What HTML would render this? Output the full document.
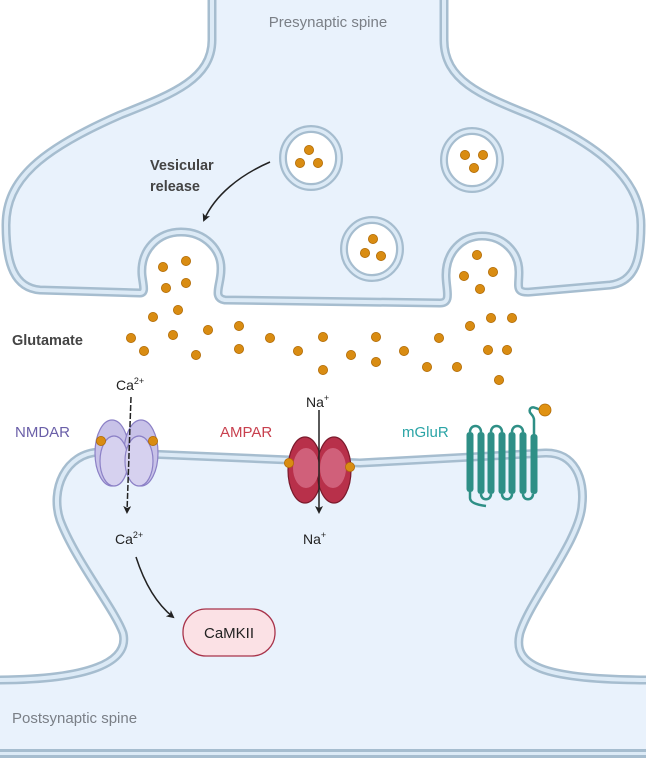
<!DOCTYPE html>
<html><head><meta charset="utf-8"><style>
html,body{margin:0;padding:0;background:#fff}
svg{display:block}
text{font-family:"Liberation Sans",sans-serif}
</style></head><body>
<svg width="646" height="763" viewBox="0 0 646 763" xmlns="http://www.w3.org/2000/svg">
<defs>
<marker id="ah" markerWidth="8" markerHeight="8" refX="6" refY="4" orient="auto" markerUnits="userSpaceOnUse"><path d="M0,0 L8,4 L0,8 L2,4 Z" fill="#222"/></marker>
<g id="dot"><circle r="4.6" fill="#d98c12" stroke="#b06a05" stroke-width="0.8"/></g>
</defs>
<!-- presynaptic -->
<g>
<path id="pre" d="M212,-5 L212,40 C212,80 170,95 120,115 C40,150 6,180 6,225 C6,265 15,288 40,290 L140,293 C146,293 143,285 142,275 C140,250 158,232 181,232 C205,232 222,250 221,270 C221,285 212,298 225,300 L440,303 C452,303 446,290 446,275 C446,252 462,236 482,236 C503,236 519,252 519,272 C519,287 515,293 530,292 L610,285 C635,282 641,260 641,225 C641,180 600,145 530,115 C480,95 444,80 444,40 L444,-5 Z" fill="#e9f2fc" stroke="#a6bdcf" stroke-width="9"/>
<path d="M212,-5 L212,40 C212,80 170,95 120,115 C40,150 6,180 6,225 C6,265 15,288 40,290 L140,293 C146,293 143,285 142,275 C140,250 158,232 181,232 C205,232 222,250 221,270 C221,285 212,298 225,300 L440,303 C452,303 446,290 446,275 C446,252 462,236 482,236 C503,236 519,252 519,272 C519,287 515,293 530,292 L610,285 C635,282 641,260 641,225 C641,180 600,145 530,115 C480,95 444,80 444,40 L444,-5" fill="none" stroke="#dceaf6" stroke-width="4"/>
</g>
<!-- vesicles -->
<g fill="#fff" stroke="#a6bdcf" stroke-width="8">
<ellipse cx="311" cy="158" rx="28" ry="29"/><ellipse cx="472" cy="160" rx="28" ry="29"/><ellipse cx="372" cy="249" rx="28" ry="29"/>
</g>
<g fill="none" stroke="#dceaf6" stroke-width="3.5">
<ellipse cx="311" cy="158" rx="28" ry="29"/><ellipse cx="472" cy="160" rx="28" ry="29"/><ellipse cx="372" cy="249" rx="28" ry="29"/>
</g>
<!-- postsynaptic -->
<path d="M-5,680 C90,680 130,662 123,633 C115,610 75,560 60,520 C50,490 65,453 100,452 L290,460 L360,463 L545,453 C575,452 585,480 582,505 C580,540 530,600 520,633 C512,665 540,680 651,680 L651,754 L-5,754 Z" fill="#e9f2fc" stroke="none"/>
<path d="M-5,680 C90,680 130,662 123,633 C115,610 75,560 60,520 C50,490 65,453 100,452 L290,460 L360,463 L545,453 C575,452 585,480 582,505 C580,540 530,600 520,633 C512,665 540,680 651,680" fill="none" stroke="#a6bdcf" stroke-width="9"/>
<path d="M-5,680 C90,680 130,662 123,633 C115,610 75,560 60,520 C50,490 65,453 100,452 L290,460 L360,463 L545,453 C575,452 585,480 582,505 C580,540 530,600 520,633 C512,665 540,680 651,680" fill="none" stroke="#dceaf6" stroke-width="4"/>
<rect x="0" y="749" width="646" height="9" fill="#a6bdcf"/>
<rect x="0" y="752" width="646" height="3" fill="#dceaf6"/>
<rect x="0" y="758" width="646" height="5" fill="#fff"/>
<!-- glutamate dots -->
<g>
<use href="#dot" x="309" y="150"/><use href="#dot" x="300" y="163"/><use href="#dot" x="318" y="163"/>
<use href="#dot" x="465" y="155"/><use href="#dot" x="483" y="155"/><use href="#dot" x="474" y="168"/>
<use href="#dot" x="373" y="239"/><use href="#dot" x="365" y="253"/><use href="#dot" x="381" y="256"/>
<use href="#dot" x="163" y="267"/><use href="#dot" x="186" y="261"/><use href="#dot" x="166" y="288"/><use href="#dot" x="186" y="283"/>
<use href="#dot" x="153" y="317"/><use href="#dot" x="178" y="310"/><use href="#dot" x="131" y="338"/><use href="#dot" x="144" y="351"/>
<use href="#dot" x="173" y="335"/><use href="#dot" x="208" y="330"/><use href="#dot" x="239" y="326"/><use href="#dot" x="196" y="355"/>
<use href="#dot" x="239" y="349"/><use href="#dot" x="270" y="338"/><use href="#dot" x="298" y="351"/><use href="#dot" x="323" y="337"/>
<use href="#dot" x="351" y="355"/><use href="#dot" x="376" y="337"/><use href="#dot" x="376" y="362"/><use href="#dot" x="404" y="351"/>
<use href="#dot" x="439" y="338"/><use href="#dot" x="427" y="367"/><use href="#dot" x="457" y="367"/><use href="#dot" x="323" y="370"/>
<use href="#dot" x="477" y="255"/><use href="#dot" x="464" y="276"/><use href="#dot" x="493" y="272"/><use href="#dot" x="480" y="289"/>
<use href="#dot" x="470" y="326"/><use href="#dot" x="491" y="318"/><use href="#dot" x="512" y="318"/><use href="#dot" x="488" y="350"/>
<use href="#dot" x="507" y="350"/><use href="#dot" x="499" y="380"/>
</g>
<!-- labels -->
<text x="328" y="27" font-size="15" fill="#7a7f86" text-anchor="middle">Presynaptic spine</text>
<text x="150" y="170" font-size="14.5" font-weight="bold" fill="#444">Vesicular</text>
<text x="150" y="191" font-size="14.5" font-weight="bold" fill="#444">release</text>
<path d="M270,162 C240,175 215,195 204,220" fill="none" stroke="#222" stroke-width="1.5" marker-end="url(#ah)"/>
<text x="12" y="345" font-size="14.5" font-weight="bold" fill="#444">Glutamate</text>
<text x="15" y="437" font-size="15" fill="#6a5fa8">NMDAR</text>
<text x="220" y="437" font-size="15" fill="#c8404e">AMPAR</text>
<text x="402" y="437" font-size="15" fill="#2aa4a6">mGluR</text>
<text x="116" y="390" font-size="14" fill="#222">Ca<tspan font-size="9" dy="-6">2+</tspan></text>
<text x="306" y="407" font-size="14" fill="#222">Na<tspan font-size="9" dy="-6">+</tspan></text>
<text x="115" y="544" font-size="14" fill="#222">Ca<tspan font-size="9" dy="-6">2+</tspan></text>
<text x="303" y="544" font-size="14" fill="#222">Na<tspan font-size="9" dy="-6">+</tspan></text>
<!-- NMDAR -->
<g stroke="#8b80c6" stroke-width="1.2">
<ellipse cx="112" cy="453" rx="17" ry="33" fill="#c8c2e8"/>
<ellipse cx="141" cy="453" rx="17" ry="33" fill="#c8c2e8"/>
<ellipse cx="114" cy="461" rx="14" ry="25" fill="#d6d1ef"/>
<ellipse cx="139" cy="461" rx="14" ry="25" fill="#d6d1ef"/>
</g>
<use href="#dot" x="101" y="441"/><use href="#dot" x="153" y="441"/>
<!-- AMPAR -->
<g stroke="#7a1a2c" stroke-width="1.2">
<ellipse cx="305" cy="470" rx="17" ry="33" fill="#b8304a"/>
<ellipse cx="334" cy="470" rx="17" ry="33" fill="#b8304a"/>
<ellipse cx="306" cy="468" rx="13" ry="20" fill="#d0607a" stroke="none"/>
<ellipse cx="333" cy="468" rx="13" ry="20" fill="#d0607a" stroke="none"/>
</g>
<use href="#dot" x="289" y="463"/><use href="#dot" x="350" y="467"/>
<!-- arrows through channels -->
<path d="M131,397 L127,512" stroke="#222" stroke-width="1.5" stroke-dasharray="6,2" fill="none" marker-end="url(#ah)"/>
<path d="M319,410 L319,512" stroke="#222" stroke-width="1.5" fill="none" marker-end="url(#ah)"/>
<path d="M136,557 C145,585 158,605 173,617" stroke="#222" stroke-width="1.5" fill="none" marker-end="url(#ah)"/>
<!-- CaMKII -->
<rect x="183" y="609" width="92" height="47" rx="23" fill="#fbe1e5" stroke="#a8334a" stroke-width="1.3"/>
<text x="229" y="638" font-size="15" fill="#222" text-anchor="middle">CaMKII</text>
<!-- mGluR -->
<g fill="none" stroke="#2e8f86" stroke-width="2.5">
<path d="M470,432 C470,424 481,424 481,432 M491,432 C491,424 502,424 502,432 M512,432 C512,424 523,424 523,432"/>
<path d="M481,494 C481,501 491,501 491,494 M502,494 C502,501 512,501 512,494 M523,494 C523,501 533,501 533,494"/>
<path d="M470,490 L470,498 C470,503 478,505 486,506"/>
<path d="M534,436 L534,420 C534,414 528,414 530,409 C533,404 540,412 545,410"/>
</g>
<g fill="#2e8f86">
<rect x="466.5" y="432" width="7" height="60" rx="3"/>
<rect x="477.5" y="432" width="7" height="62" rx="3"/>
<rect x="487.5" y="432" width="7" height="62" rx="3"/>
<rect x="498.5" y="432" width="7" height="62" rx="3"/>
<rect x="508.5" y="432" width="7" height="62" rx="3"/>
<rect x="519.5" y="432" width="7" height="62" rx="3"/>
<rect x="530.5" y="434" width="7" height="60" rx="3"/>
</g>
<circle cx="545" cy="410" r="6" fill="#e09212" stroke="#b06a05" stroke-width="0.8"/>
<text x="12" y="723" font-size="15" fill="#7a7f86">Postsynaptic spine</text>
</svg>
</body></html>
